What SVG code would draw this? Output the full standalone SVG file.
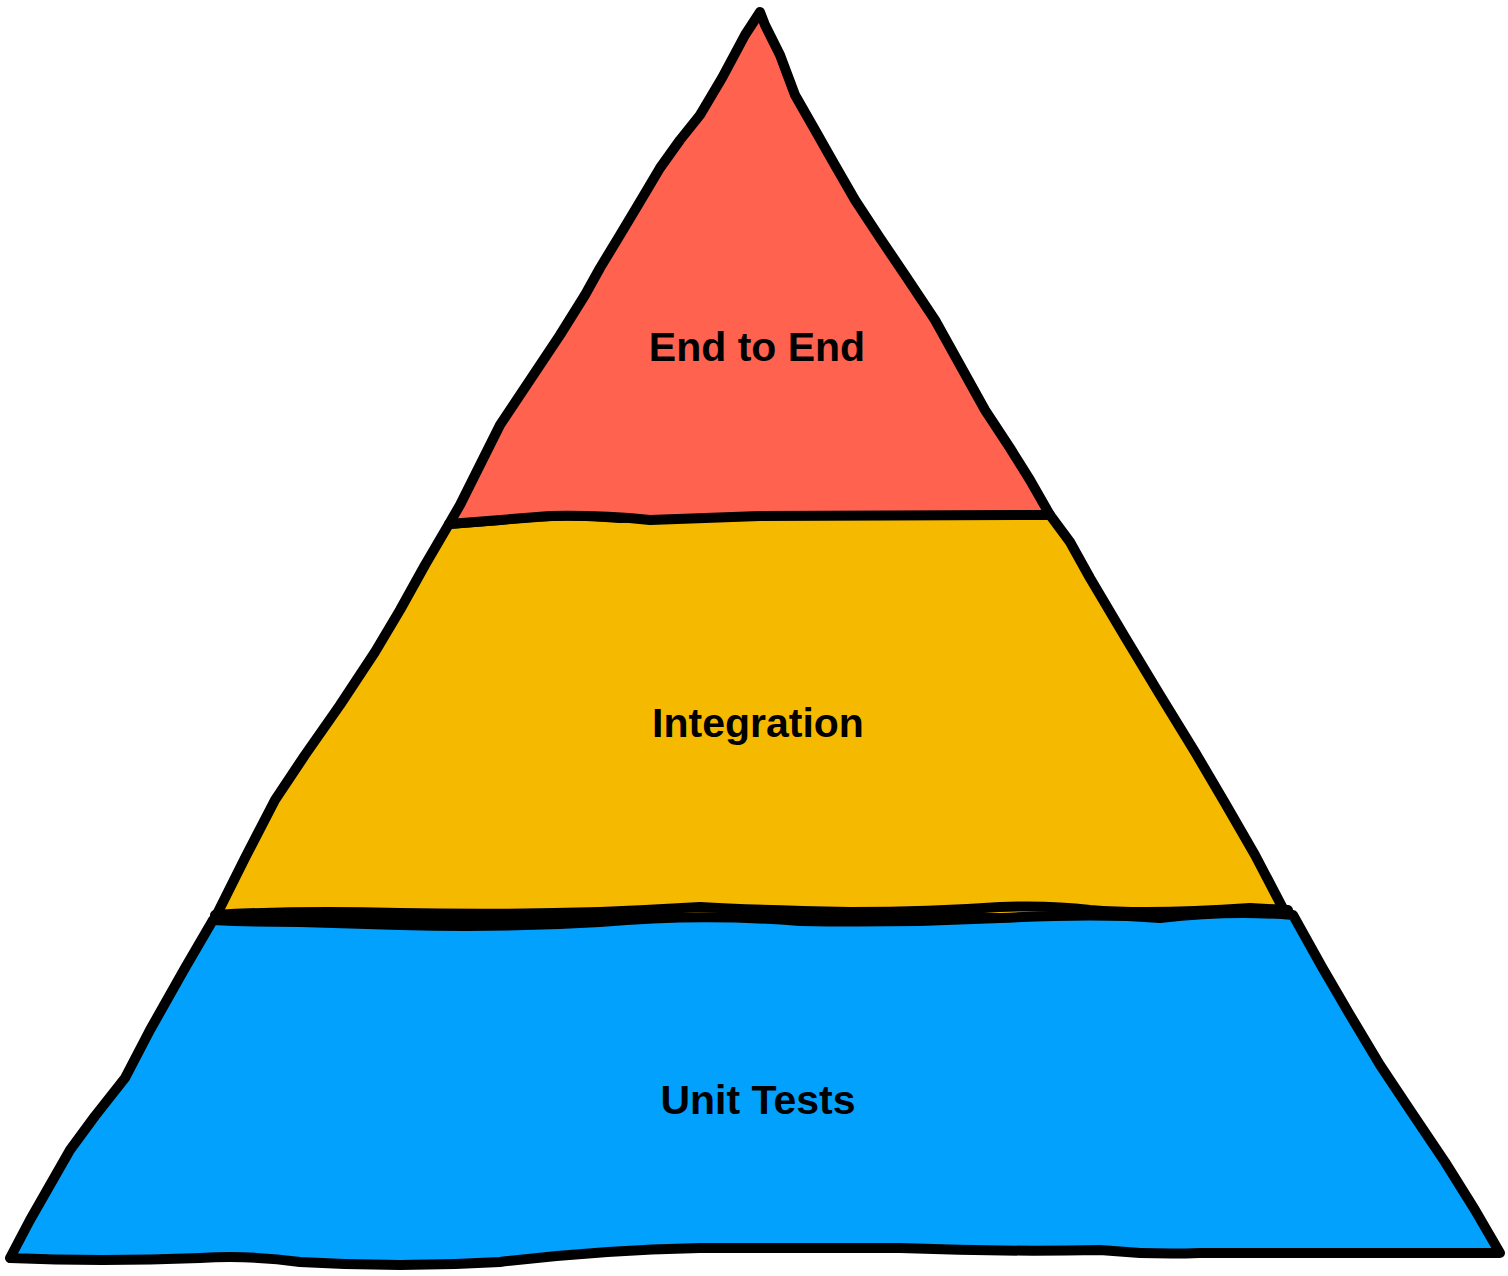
<svg xmlns="http://www.w3.org/2000/svg" width="1508" height="1276" viewBox="0 0 1508 1276">
<style>
.o{stroke:#000;stroke-width:10;stroke-linecap:round;stroke-linejoin:round}
.t{font-family:"Liberation Sans",Arial,sans-serif;font-weight:bold;font-size:41px;fill:#000;text-anchor:middle}
</style>
<rect width="1508" height="1276" fill="#fff"/>
<path class="o" fill="#F5BA00" d="M449,524 L425,565 L400,610 L375,652 L340,705 L305,755 L275,800 L245,858 L215,918 L1288,918 L1255,855 L1225,803 L1195,752 L1160,695 L1125,637 L1090,578 L1070,542 L1050,515 Q1000,514 900,514 L800,515 Q700,514 620,518 Q560,512 500,520 Z"/>
<path class="o" fill="#02A1FE" d="M213,920 L185,968 L150,1030 L125,1078 L95,1116 L70,1150 L50,1185 L30,1220 L10,1258 Q100,1262 200,1258 Q250,1255 300,1262 Q400,1268 500,1262 Q600,1250 700,1248 L900,1248 Q1000,1252 1100,1250 Q1150,1255 1200,1253 L1500,1253 L1475,1210 L1445,1162 L1410,1110 L1380,1065 L1350,1015 L1322,967 L1293,915 Q1230,910 1160,918 Q1100,913 1000,918 Q900,923 800,921 Q700,913 600,922 Q500,928 400,925 L300,922 Q250,922 213,920 Z"/>
<path class="o" fill="none" d="M215,915 Q300,910 400,913 Q500,915 600,912 Q650,910 700,907 Q750,910 850,912 Q930,912 1000,907 Q1050,905 1090,910 Q1150,915 1250,908 L1288,910"/>
<path class="o" fill="#FF634F" d="M760,12 L745,35 L722,78 L700,115 L680,140 L660,168 L638,205 L620,235 L600,268 L585,295 L560,335 L530,380 L500,425 L480,465 L460,505 L449,524 Q500,520 550,516 Q600,515 650,520 L760,516 Q900,515 1050,515 L1030,480 L1010,448 L985,410 L960,365 L935,320 L905,275 L880,238 L855,200 L832,160 L815,130 L795,95 L780,55 L765,25 Z"/>
<text class="t" x="757" y="361">End to End</text>
<text class="t" x="758" y="737">Integration</text>
<text class="t" x="758" y="1114">Unit Tests</text>
</svg>
